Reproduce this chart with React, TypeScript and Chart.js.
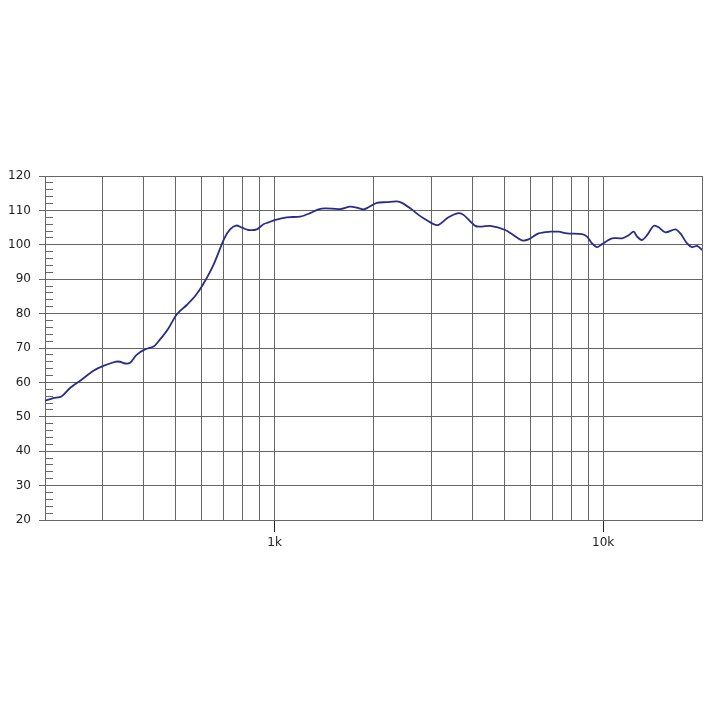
import { useEffect, useRef } from 'react';
import { Chart, registerables } from 'chart.js';

Chart.register(...registerables);

// frequency response (Hz / dB)
const freqHz = [
  200, 212, 225, 238, 256, 281, 301, 327, 338, 351,
  363, 380, 403, 428, 448, 475, 504, 540, 573, 604,
  651, 703, 732, 763, 795, 832, 883, 925, 958, 1000,
  1089, 1196, 1283, 1360, 1426, 1583, 1698, 1780, 1864, 1931,
  2048, 2196, 2357, 2442, 2588, 2742, 2840, 3046, 3156, 3384,
  3630, 3759, 4082, 4278, 4534, 5038, 5340, 5662, 5932, 6362,
  6906, 7320, 7764, 8626, 8934, 9254, 9584, 9926, 10646, 11420,
  11960, 12388, 12686, 13138, 13610, 14254, 14762, 15470, 16596, 17188,
  18014, 18656, 19326, 20000,
];

const splDb = [
  54.7, 55.4, 56.0, 58.3, 60.5, 63.4, 64.8, 66.0, 66.0, 65.5,
  65.7, 68.0, 69.6, 70.4, 72.5, 75.7, 79.8, 82.5, 85.1, 88.3,
  94.1, 101.9, 104.5, 105.6, 105.0, 104.3, 104.5, 106.0, 106.5, 107.2,
  108.0, 108.2, 109.2, 110.3, 110.6, 110.4, 111.1, 110.8, 110.3, 110.9,
  112.2, 112.4, 112.6, 112.2, 110.6, 108.7, 107.7, 106.0, 105.8, 108.0,
  109.2, 108.7, 105.5, 105.3, 105.5, 104.3, 102.8, 101.3, 101.6, 103.3,
  103.8, 103.8, 103.3, 103.1, 102.4, 100.4, 99.3, 100.2, 101.9, 101.9,
  102.8, 103.8, 102.4, 101.4, 102.8, 105.5, 105.1, 103.6, 104.5, 103.3,
  100.4, 99.3, 99.7, 98.5,
];

// vertical grid lines
const xGridHz = [
  200, 300, 400, 500, 600, 700, 800, 900,
  1000, 2000, 3000, 4000, 5000, 6000, 7000, 8000, 9000,
  10000, 20000,
];
const xLabels: Record<number, string> = { 1000: '1k', 10000: '10k' };

const GRID = '#666666';
const TEXT = '#222222';
const FONT = "'DejaVu Sans', sans-serif";

const App = () => {
  const canvasRef = useRef<HTMLCanvasElement>(null);

  useEffect(() => {
    if (!canvasRef.current) return;

    const chart = new Chart(canvasRef.current, {
      type: 'scatter',
      data: {
        datasets: [
          {
            data: freqHz.map((f, i) => ({ x: f, y: splDb[i] })),
            showLine: true,
            borderColor: '#2b2b8c',
            borderWidth: 1.8,
            pointRadius: 0,
            tension: 0.3,
            xAxisID: 'x',
            yAxisID: 'y',
          },
        ],
      },
      options: {
        responsive: true,
        maintainAspectRatio: false,
        animation: false,
        layout: { padding: { top: 176, right: 18, bottom: 160, left: 0 } },
        plugins: {
          legend: { display: false },
          tooltip: { enabled: false },
        },
        scales: {
          x: {
            type: 'logarithmic',
            min: 200,
            max: 20000,
            afterBuildTicks: (scale: any) => {
              scale.ticks = xGridHz.map((v) => ({ value: v }));
            },
            afterFit: (scale: any) => {
              scale.height = 40;
            },
            ticks: {
              autoSkip: false,
              maxRotation: 0,
              padding: 4,
              color: TEXT,
              font: { family: FONT, size: 12 },
              callback: (value: any) => xLabels[Number(value)] ?? '',
            },
            grid: {
              color: GRID,
              tickLength: 12,
              tickColor: (ctx: any) =>
                ctx.tick && xLabels[ctx.tick.value] ? TEXT : 'rgba(0,0,0,0)',
            },
            border: { color: GRID },
          },
          y: {
            type: 'linear',
            position: 'left',
            weight: 1,
            min: 20,
            max: 120,
            afterFit: (scale: any) => {
              scale.width = 45;
            },
            ticks: {
              stepSize: 10,
              padding: 8,
              color: TEXT,
              font: { family: FONT, size: 12 },
            },
            grid: { color: GRID, tickLength: 6, tickColor: GRID },
            border: { color: GRID },
          },
          // small 2 dB ticks just inside the left edge
          yMinor: {
            type: 'linear',
            position: 'left',
            weight: 0,
            min: 20,
            max: 120,
            afterFit: (scale: any) => {
              scale.width = 0;
            },
            ticks: { stepSize: 2, display: false },
            grid: {
              drawOnChartArea: false,
              drawTicks: true,
              tickLength: -8,
              tickColor: GRID,
            },
            border: { display: false },
          },
        },
      },
    });

    return () => {
      chart.destroy();
    };
  }, []);

  return (
    <div style={{ position: 'absolute', left: 0, top: 0, width: 720, height: 720, background: '#fff' }}>
      <canvas ref={canvasRef} />
    </div>
  );
};

export default App;
